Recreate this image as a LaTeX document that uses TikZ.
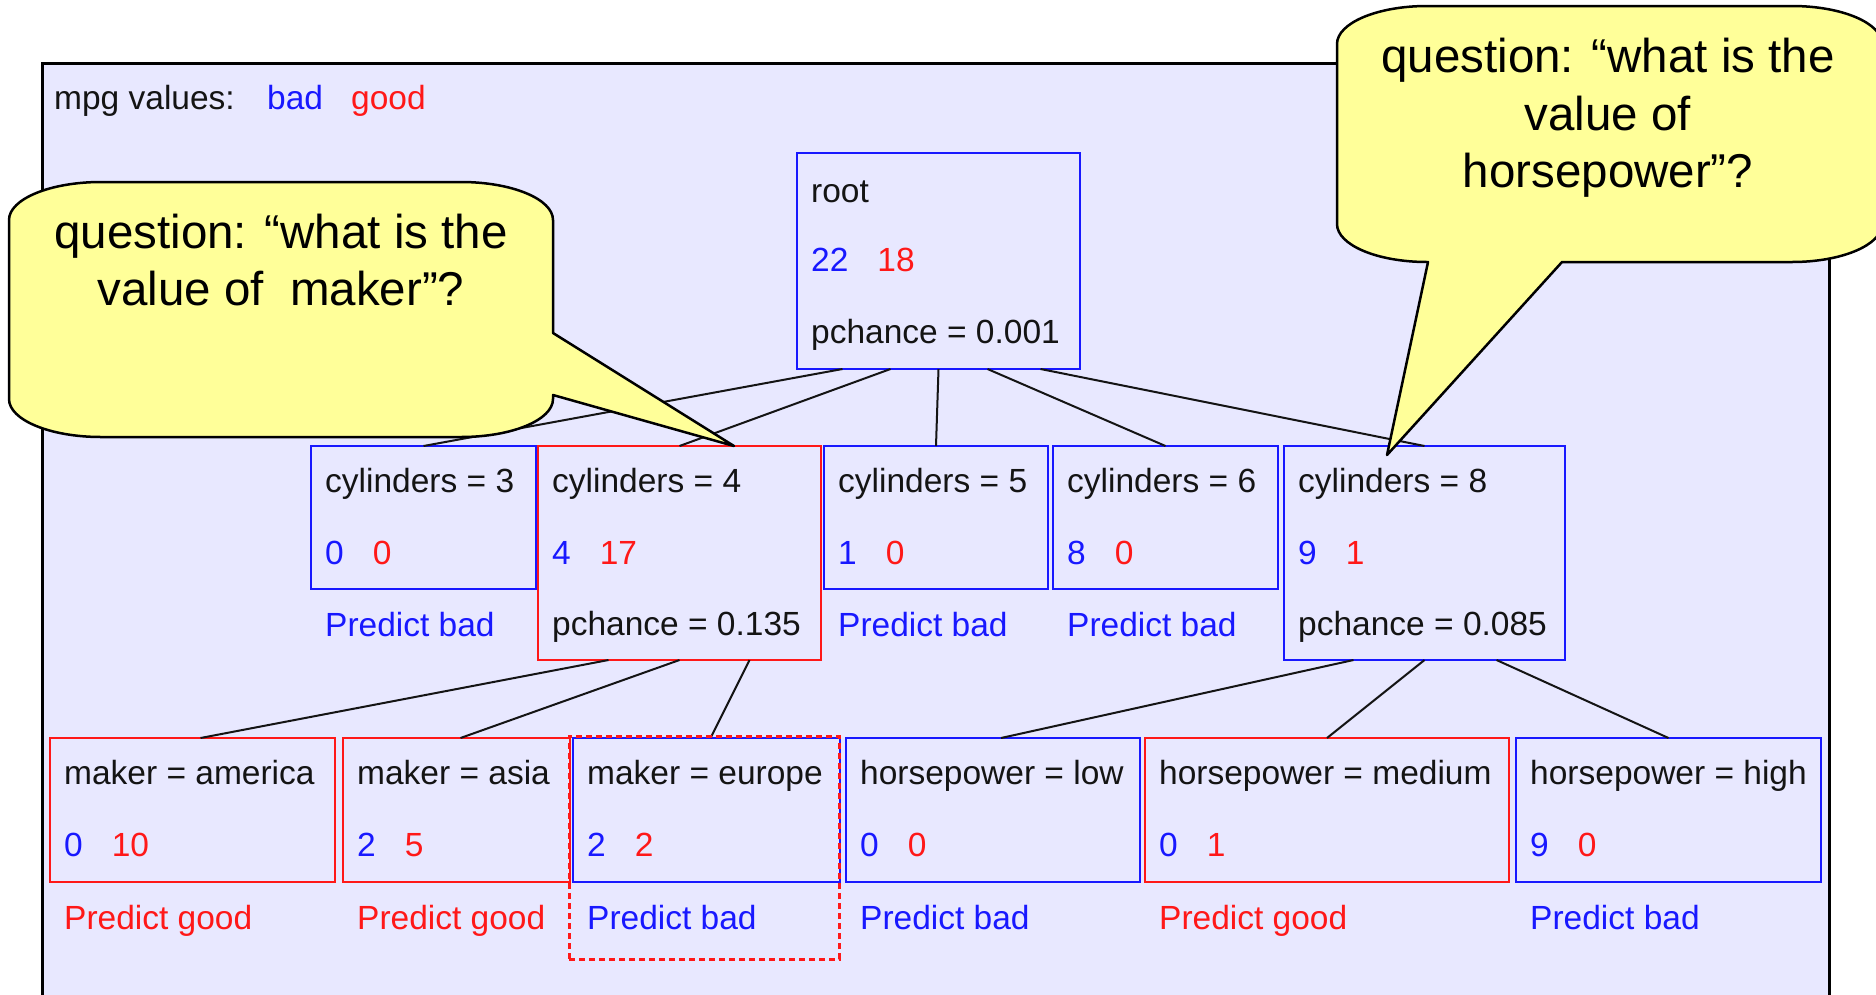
\documentclass[tikz,border=0pt]{standalone}
\usepackage{fontspec}
\setmainfont{Liberation Sans}
\definecolor{tblue}{RGB}{24,24,255}
\definecolor{tred}{RGB}{255,24,24}
\definecolor{lav}{RGB}{232,232,255}
\definecolor{callfill}{RGB}{255,255,153}
\definecolor{ink}{RGB}{20,20,20}
\begin{document}
\begin{tikzpicture}[x=1pt,y=-1pt,
  box/.style={draw, line width=2.5pt, inner sep=0pt, outer sep=0pt, anchor=north west},
  bluebox/.style={box, draw=tblue},
  redbox/.style={box, draw=tred},
  txt/.style={anchor=base west, inner sep=0pt, font=\fontsize{33.5}{40}\selectfont, text=ink},
  link/.style={draw=ink, line width=2pt},
  callout/.style={draw=black, fill=callfill, line width=2.5pt, line join=round},
  qtxt/.style={anchor=base, inner sep=0pt, font=\fontsize{47.5}{57}\selectfont, text=black},
]
\newcommand{\cnt}[2]{{\color{tblue}#1}\hspace{29pt}{\color{tred}#2}}
\useasboundingbox (0,0) rectangle (1876,994);
\clip (0,0) rectangle (1876,994);

% frame
\draw[line width=3pt, fill=lav] (42,63) rectangle (1829,1010);

% legend
\node[txt] (lg) at (54,109) {mpg values:};
\node[txt, text=tblue] (lgb) at (267,109) {bad};
\node[txt, text=tred] (lgg) at (351,109) {good};

% boxes
\node[bluebox, minimum width=283pt, minimum height=216pt] (root) at (797,153) {};
\node[bluebox, minimum width=225pt, minimum height=143pt] (c3) at (311,446) {};
\node[redbox,  minimum width=283pt, minimum height=214pt] (c4) at (538,446) {};
\node[bluebox, minimum width=224pt, minimum height=143pt] (c5) at (824,446) {};
\node[bluebox, minimum width=225pt, minimum height=143pt] (c6) at (1053,446) {};
\node[bluebox, minimum width=281pt, minimum height=214pt] (c8) at (1284,446) {};
\node[redbox,  minimum width=285pt, minimum height=144pt] (ma) at (50,738) {};
\node[redbox,  minimum width=227pt, minimum height=144pt] (ms) at (343,738) {};
\node[bluebox, minimum width=267pt, minimum height=144pt] (me) at (573,738) {};
\node[bluebox, minimum width=294pt, minimum height=144pt] (hl) at (846,738) {};
\node[redbox,  minimum width=364pt, minimum height=144pt] (hm) at (1145,738) {};
\node[bluebox, minimum width=305pt, minimum height=144pt] (hh) at (1516,738) {};

% texts
\node[txt] (root-a) at ([shift={(14,49)}]root.north west) {root};
\node[txt] (root-b) at ([shift={(14,118)}]root.north west) {\cnt{22}{18}};
\node[txt] (root-c) at ([shift={(14,190)}]root.north west) {pchance = 0.001};

\node[txt] (c3-a) at ([shift={(14,46)}]c3.north west) {cylinders = 3};
\node[txt] (c3-b) at ([shift={(14,118)}]c3.north west) {\cnt{0}{0}};
\node[txt, text=tblue] (c3-c) at ([shift={(14,190)}]c3.north west) {Predict bad};

\node[txt] (c4-a) at ([shift={(14,46)}]c4.north west) {cylinders = 4};
\node[txt] (c4-b) at ([shift={(14,118)}]c4.north west) {\cnt{4}{17}};
\node[txt] (c4-c) at ([shift={(14,189)}]c4.north west) {pchance = 0.135};

\node[txt] (c5-a) at ([shift={(14,46)}]c5.north west) {cylinders = 5};
\node[txt] (c5-b) at ([shift={(14,118)}]c5.north west) {\cnt{1}{0}};
\node[txt, text=tblue] (c5-c) at ([shift={(14,190)}]c5.north west) {Predict bad};

\node[txt] (c6-a) at ([shift={(14,46)}]c6.north west) {cylinders = 6};
\node[txt] (c6-b) at ([shift={(14,118)}]c6.north west) {\cnt{8}{0}};
\node[txt, text=tblue] (c6-c) at ([shift={(14,190)}]c6.north west) {Predict bad};

\node[txt] (c8-a) at ([shift={(14,46)}]c8.north west) {cylinders = 8};
\node[txt] (c8-b) at ([shift={(14,118)}]c8.north west) {\cnt{9}{1}};
\node[txt] (c8-c) at ([shift={(14,189)}]c8.north west) {pchance = 0.085};

\node[txt] (ma-a) at ([shift={(14,46)}]ma.north west) {maker = america};
\node[txt] (ma-b) at ([shift={(14,118)}]ma.north west) {\cnt{0}{10}};
\node[txt, text=tred] (ma-c) at ([shift={(14,191)}]ma.north west) {Predict good};

\node[txt] (ms-a) at ([shift={(14,46)}]ms.north west) {maker = asia};
\node[txt] (ms-b) at ([shift={(14,118)}]ms.north west) {\cnt{2}{5}};
\node[txt, text=tred] (ms-c) at ([shift={(14,191)}]ms.north west) {Predict good};

\node[txt] (me-a) at ([shift={(14,46)}]me.north west) {maker = europe};
\node[txt] (me-b) at ([shift={(14,118)}]me.north west) {\cnt{2}{2}};
\node[txt, text=tblue] (me-c) at ([shift={(14,191)}]me.north west) {Predict bad};

\node[txt] (hl-a) at ([shift={(14,46)}]hl.north west) {horsepower = low};
\node[txt] (hl-b) at ([shift={(14,118)}]hl.north west) {\cnt{0}{0}};
\node[txt, text=tblue] (hl-c) at ([shift={(14,191)}]hl.north west) {Predict bad};

\node[txt] (hm-a) at ([shift={(14,46)}]hm.north west) {horsepower = medium};
\node[txt] (hm-b) at ([shift={(14,118)}]hm.north west) {\cnt{0}{1}};
\node[txt, text=tred] (hm-c) at ([shift={(14,191)}]hm.north west) {Predict good};

\node[txt] (hh-a) at ([shift={(14,46)}]hh.north west) {horsepower = high};
\node[txt] (hh-b) at ([shift={(14,118)}]hh.north west) {\cnt{9}{0}};
\node[txt, text=tblue] (hh-c) at ([shift={(14,191)}]hh.north west) {Predict bad};

% connectors
\draw[link] ([xshift=-96pt]root.south) -- (c3.north);
\draw[link] ([xshift=-48pt]root.south) -- (c4.north);
\draw[link] (root.south) -- (c5.north);
\draw[link] ([xshift=49pt]root.south) -- (c6.north);
\draw[link] ([xshift=102pt]root.south) -- (c8.north);
\draw[link] ([xshift=-71pt]c4.south) -- ([xshift=8pt]ma.north);
\draw[link] (c4.south) -- ([xshift=4pt]ms.north);
\draw[link] ([xshift=70pt]c4.south) -- ([xshift=4pt]me.north);
\draw[link] ([xshift=-71pt]c8.south) -- ([xshift=8pt]hl.north);
\draw[link] (c8.south) -- (hm.north);
\draw[link] ([xshift=72pt]c8.south) -- (hh.north);

% selection
\node[draw=tred, line width=3pt, dash pattern=on 6pt off 4pt, inner sep=0pt, outer sep=0pt,
  anchor=north west, minimum width=270pt, minimum height=223pt] (sel) at (569,736) {};

% callout 1
\path[callout] (101,182) -- (461,182)
  arc[start angle=90, end angle=0, x radius=92pt, y radius=38pt] -- (553,333) -- (734,446) -- (553,395) -- (553,399)
  arc[start angle=0, end angle=-90, x radius=92pt, y radius=38pt] -- (101,437)
  arc[start angle=270, end angle=180, x radius=92pt, y radius=38pt] -- (9,220)
  arc[start angle=180, end angle=90, x radius=92pt, y radius=38pt] -- cycle;
\node[qtxt] (q1a) at (281,248) {question: “what is the};
\node[qtxt] (q1b) at (281,305) {value of\ \ maker”?};

% callout 2
\path[callout] (1427,6) -- (1792,6)
  arc[start angle=90, end angle=0, x radius=90pt, y radius=38pt] -- (1882,224)
  arc[start angle=0, end angle=-90, x radius=90pt, y radius=38pt] -- (1562,262) -- (1387,455) -- (1428,262) -- (1427,262)
  arc[start angle=270, end angle=180, x radius=90pt, y radius=38pt] -- (1337,44)
  arc[start angle=180, end angle=90, x radius=90pt, y radius=38pt] -- cycle;
\node[qtxt] (q2a) at (1608,72) {question: “what is the};
\node[qtxt] (q2b) at (1608,130) {value of};
\node[qtxt] (q2c) at (1608,187) {horsepower”?};
\end{tikzpicture}
\end{document}
